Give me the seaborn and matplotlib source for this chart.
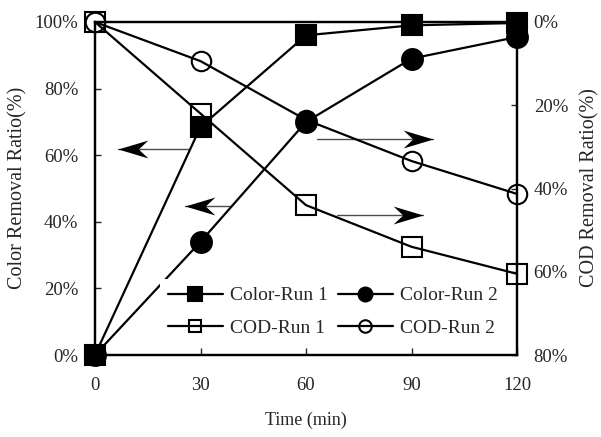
import matplotlib
matplotlib.use("Agg")
import matplotlib.pyplot as plt
import seaborn as sns
import pandas as pd
from matplotlib.lines import Line2D
from matplotlib.path import Path

# ---- data ----
time_min = [0, 30, 60, 90, 120]
color_run1 = [0, 68.5, 96, 99, 99.7]      # Color removal ratio, % (left axis)
color_run2 = [0, 34, 70, 89, 95.5]
cod_run1 = [0, 22, 44, 54, 60.5]          # COD removal ratio, % (right axis, inverted)
cod_run2 = [0, 9.4, 23.5, 33.4, 41.3]

x_ticks = [0, 30, 60, 90, 120]
left_ticks = [0, 20, 40, 60, 80, 100]
right_ticks = [0, 20, 40, 60, 80]

# annotation arrows: (tail_x, tip_x, y_left_percent)
arrows = [(27.0, 6.5, 61.9), (38.4, 25.6, 44.7), (63.1, 96.1, 64.9), (68.8, 93.3, 42.0)]

sns.set_style("ticks")
plt.rcParams['font.family'] = ['Liberation Serif', 'DejaVu Serif']

fig = plt.figure(figsize=(6.01, 4.37), dpi=100)
ax = fig.add_axes([95 / 601, 1 - 355 / 437, 422 / 601, 333 / 437])
ax2 = ax.twinx()

df = pd.DataFrame({"t": time_min, "c1": color_run1, "c2": color_run2,
                   "d1": cod_run1, "d2": cod_run2})

lw = 1.6
common = dict(color="black", lw=lw, clip_on=False, markeredgecolor="black",
              markeredgewidth=1.5, legend=False)
sns.lineplot(data=df, x="t", y="c1", ax=ax, marker="s", markersize=14,
             markerfacecolor="black", zorder=3, **common)
sns.lineplot(data=df, x="t", y="c2", ax=ax, marker="o", markersize=15,
             markerfacecolor="black", zorder=3, **common)
sns.lineplot(data=df, x="t", y="d1", ax=ax2, marker="s", markersize=14,
             markerfacecolor="none", zorder=3, **common)
sns.lineplot(data=df, x="t", y="d2", ax=ax2, marker="o", markersize=14,
             markerfacecolor="none", zorder=3, **common)

ax.set_xlim(0, 120)
ax.set_ylim(0, 100)
ax2.set_ylim(80, 0)

ax.set_xticks(x_ticks)
ax.set_xticklabels([str(v) for v in x_ticks], fontsize=13.5)
ax.set_yticks(left_ticks)
ax.set_yticklabels([f"{v}%" for v in left_ticks], fontsize=13.5)
ax2.set_yticks(right_ticks)
ax2.set_yticklabels([f"{v}%" for v in right_ticks], fontsize=13.5)

ax.tick_params(axis='x', direction='in', length=5, width=1, pad=16, top=False)
ax.tick_params(axis='y', direction='in', length=4, width=1, pad=12, right=False)
ax2.tick_params(axis='y', direction='in', length=4, width=1, pad=12)

for a in (ax, ax2):
    for s in a.spines.values():
        s.set_linewidth(1.6)
        s.set_color("black")
        s.set_visible(True)
ax.set_xlabel("")
ax.set_ylabel("")
ax2.set_ylabel("")

# arrows with stealth heads
head_r = Path([(0, 0), (-1, 0.3), (-0.68, 0), (-1, -0.3), (0, 0)],
              [Path.MOVETO, Path.LINETO, Path.LINETO, Path.LINETO, Path.CLOSEPOLY])
head_l = Path([(0, 0), (1, 0.3), (0.68, 0), (1, -0.3), (0, 0)],
              [Path.MOVETO, Path.LINETO, Path.LINETO, Path.LINETO, Path.CLOSEPOLY])
for tail, tip, y in arrows:
    ax.plot([tail, tip], [y, y], color="0.3", lw=1.0, zorder=2)
    ax.plot([tip], [y], marker=head_r if tip > tail else head_l, markersize=43,
            color="black", markeredgewidth=0, zorder=2)

# labels
fig.text(18 / 601, 1 - 188 / 437, "Color Removal Ratio(%)", rotation=90,
         ha="center", va="center", fontsize=14.5)
fig.text(590 / 601, 1 - 188 / 437, "COD Removal Ratio(%)", rotation=90,
         ha="center", va="center", fontsize=14.5)
fig.text(306 / 601, 1 - 420 / 437, "Time (min)", ha="center", va="center",
         fontsize=13)

# legend
def h(marker, fc, ms):
    return Line2D([], [], color="black", lw=lw, marker=marker, markersize=ms,
                  markerfacecolor=fc, markeredgecolor="black", markeredgewidth=1.5)

handles = [h("s", "black", 9.5), h("s", "none", 9), h("o", "black", 10), h("o", "none", 9)]
labels = ["Color-Run 1", "COD-Run 1", "Color-Run 2", "COD-Run 2"]
leg = ax2.legend(handles, labels, ncol=2, loc="upper left",
                 bbox_to_anchor=(160 / 601, 1 - 279 / 437),
                 bbox_transform=fig.transFigure, borderaxespad=0,
                 frameon=True, fontsize=14, handlelength=2.85,
                 handletextpad=0.35, columnspacing=0.5, labelspacing=0.78,
                 borderpad=0.4)
leg.get_frame().set_edgecolor("none")
leg.get_frame().set_facecolor("white")
leg.get_frame().set_alpha(1)
leg.get_frame().set_boxstyle("square", pad=0)

fig.savefig("out.png", dpi=100)
